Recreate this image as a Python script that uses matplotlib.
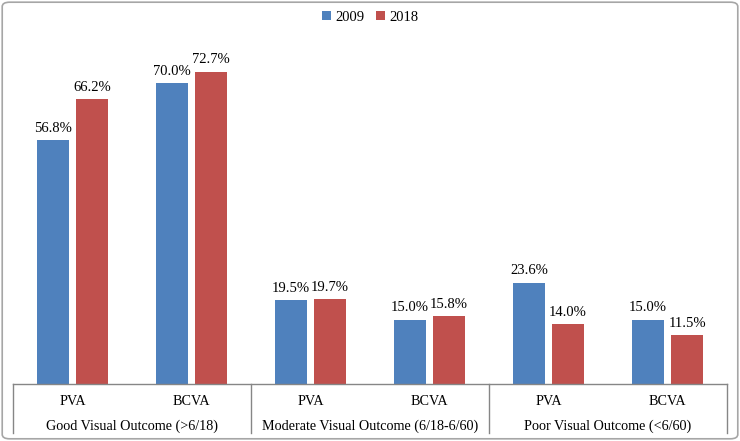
import numpy as np
import matplotlib
matplotlib.use("Agg")
import matplotlib.pyplot as plt
import matplotlib.transforms as mtransforms
from matplotlib.patches import FancyBboxPatch

# ── Datos ─────────────────────────────────────────────────────────────────────
grupos = ["Good Visual Outcome (>6/18)",
          "Moderate Visual Outcome (6/18-6/60)",
          "Poor Visual Outcome (<6/60)"]
subcats = ["PVA", "BCVA", "PVA", "BCVA", "PVA", "BCVA"]
vals_2009 = [56.8, 70.0, 19.5, 15.0, 23.6, 15.0]
vals_2018 = [66.2, 72.7, 19.7, 15.8, 14.0, 11.5]

C_2009 = "#4F81BD"
C_2018 = "#C0504D"
C_AXIS = "#868686"
FONT = "Liberation Serif"

plt.rcParams["font.family"] = FONT

fig = plt.figure(figsize=(7.4, 4.41), dpi=100, facecolor="white")
ax = fig.add_axes([0.0176, 0.129, 0.9648, 0.78])

x = np.arange(len(subcats))
w = 0.27
off = 0.165
b1 = ax.bar(x - off, vals_2009, w, color=C_2009, label="2009", zorder=2)
b2 = ax.bar(x + off, vals_2018, w, color=C_2018, label="2018", zorder=2)

for bars in (b1, b2):
    for r in bars:
        ax.text(r.get_x() + r.get_width() / 2, r.get_height() + 1.2,
                f"{r.get_height():.1f}%", ha="center", va="bottom",
                fontsize=10.5, color="black")

ax.set_xlim(-0.5, len(subcats) - 0.5)
ax.set_ylim(0, 80)
ax.set_xticks([])
ax.set_yticks([])
for s in ["top", "right", "left"]:
    ax.spines[s].set_visible(False)
ax.spines["bottom"].set_color(C_AXIS)
ax.spines["bottom"].set_linewidth(1.0)

# Etiquetas multinivel del eje X
trans = mtransforms.blended_transform_factory(ax.transData, ax.transAxes)
for i, s in enumerate(subcats):
    ax.text(i, -0.052, s, transform=trans, ha="center", va="center",
            fontsize=10.2)
for g, nombre in enumerate(grupos):
    ax.text(2 * g + 0.5, -0.122, nombre, transform=trans, ha="center",
            va="center", fontsize=10.2)
for xd in [-0.5, 1.5, 3.5, 5.5]:
    ax.plot([xd, xd], [0, -0.142], transform=trans, color=C_AXIS,
            linewidth=1.0, clip_on=False)

leg = ax.legend(loc="center", bbox_to_anchor=(0.5, 1.067), ncol=2,
                frameon=False, fontsize=10.5, handlelength=0.6,
                handleheight=0.6, handletextpad=0.3, columnspacing=0.8)

# Marco exterior
marco = FancyBboxPatch((0.003, 0.005), 0.994, 0.99,
                       boxstyle="round,pad=0,rounding_size=0.01",
                       transform=fig.transFigure, fill=False,
                       edgecolor="#A6A6A6", linewidth=1.2)
fig.patches.append(marco)

fig.savefig("out.png", dpi=100, facecolor="white")
